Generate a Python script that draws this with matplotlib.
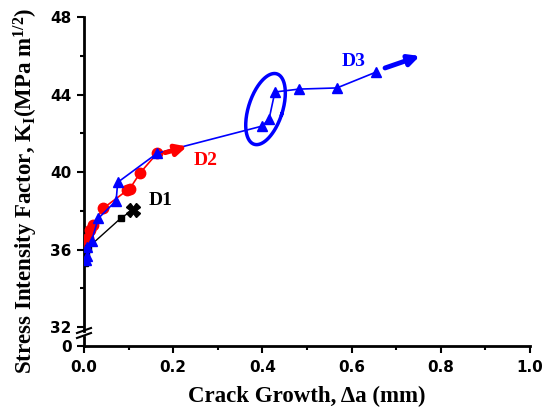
import numpy as np
import matplotlib
matplotlib.use("Agg")
import matplotlib.pyplot as plt
from matplotlib.lines import Line2D

# ---- data ----
d1_x = [0.002, 0.004, 0.009, 0.083]
d1_y = [35.3, 35.7, 36.1, 37.63]
d1_end_x = [0.11]
d1_end_y = [38.05]

d2_x = [0.004, 0.008, 0.013, 0.0195, 0.043, 0.0975, 0.103, 0.1256, 0.164]
d2_y = [36.3, 36.6, 37.0, 37.26, 38.13, 39.07, 39.15, 39.95, 40.97]
d2_arrow = [(0.182, 41.0), (0.231, 41.32)]

d3_x = [0.004, 0.006, 0.0074, 0.017, 0.032, 0.072, 0.0756, 0.164,
        0.399, 0.415, 0.428, 0.482, 0.567, 0.655]
d3_y = [35.45, 35.66, 36.14, 36.45, 37.61, 38.52, 39.47, 40.97,
        42.37, 42.74, 44.13, 44.28, 44.34, 45.16]
d3_arrow = [(0.675, 45.37), (0.753, 45.99)]

x_ticks = [0.0, 0.2, 0.4, 0.6, 0.8, 1.0]
y_ticks = [32, 36, 40, 44, 48]

plt.rcParams['mathtext.fontset'] = 'custom'
plt.rcParams['mathtext.rm'] = 'Liberation Serif:bold'
plt.rcParams['mathtext.bf'] = 'Liberation Serif:bold'
plt.rcParams['mathtext.it'] = 'Liberation Serif:bold'

W, H = 546, 412
fig = plt.figure(figsize=(W / 100, H / 100), dpi=100)

def rect(l, r, t, b):
    return [l / W, 1 - b / H, (r - l) / W, (b - t) / H]

ax = fig.add_axes(rect(84, 530, 17, 331))
axb = fig.add_axes(rect(84, 530, 337, 346))

tickfont = dict(family='DejaVu Sans', weight='bold', size=11)
serif_b = dict(family='Liberation Serif', weight='bold')

for a in (ax, axb):
    a.set_xlim(0, 1.0)
    a.patch.set_alpha(0)
    for s in ('top', 'right'):
        a.spines[s].set_visible(False)
    a.spines['left'].set_linewidth(2)
    a.spines['bottom'].set_linewidth(2)
    a.tick_params(which='major', direction='out', length=5, width=1.5)
    a.tick_params(which='minor', direction='out', length=3, width=1.5)
    a.tick_params(axis='y', pad=4)

ax.spines['bottom'].set_visible(False)
ax.set_ylim(31.8, 48)
ax.set_yticks(y_ticks)
ax.set_yticks([34, 38, 42, 46], minor=True)
ax.set_yticklabels([str(v) for v in y_ticks], fontdict=tickfont)
ax.set_xticks([])
ax.tick_params(axis='x', which='both', bottom=False, labelbottom=False)

axb.set_ylim(0, 1)
axb.set_yticks([0])
axb.set_yticklabels(['0'], fontdict=tickfont)
axb.set_xticks(x_ticks)
axb.set_xticks([0.1, 0.3, 0.5, 0.7, 0.9], minor=True)
axb.set_xticklabels([f'{v:.1f}' for v in x_ticks], fontdict=tickfont)
axb.tick_params(axis='x', pad=5)

# series
ax.plot(d2_x, d2_y, color='red', lw=1.2, marker='o', ms=7.5, zorder=3)
ax.plot(d1_x, d1_y, color='black', lw=1.0, marker='s', ms=5, zorder=4)
ax.plot([d1_x[-1]] + d1_end_x, [d1_y[-1]] + d1_end_y, color='black', lw=1.0, zorder=4)
ax.plot(d1_end_x, d1_end_y, color='black', marker='X', ms=10, ls='none', zorder=4)
ax.plot(d3_x, d3_y, color='blue', lw=1.2, marker='^', ms=7.5, zorder=5)
ax.plot([d2_x[-1], d2_arrow[0][0]], [d2_y[-1], d2_arrow[0][1]], color='red', lw=1.2, zorder=3)

ax.annotate('', xy=d2_arrow[1], xytext=d2_arrow[0],
            arrowprops=dict(arrowstyle='-|>', color='red', lw=3.5, mutation_scale=16,
                            shrinkA=0, shrinkB=0), zorder=6)
ax.annotate('', xy=d3_arrow[1], xytext=d3_arrow[0],
            arrowprops=dict(arrowstyle='-|>', color='blue', lw=3.5, mutation_scale=16,
                            shrinkA=0, shrinkB=0), zorder=6)

# ellipse highlight (drawn in pixel units, converted through the scales)
px_x = 446 / 1.0
px_y = (331 - 17) / (48 - 31.8)
cx, cy = 0.407, 43.25
t = np.linspace(0, 2 * np.pi, 200)
a_s, b_s, ang = 17.0, 37.0, np.deg2rad(-18)
ex = a_s * np.cos(t)
ey = b_s * np.sin(t)
rx = ex * np.cos(ang) - ey * np.sin(ang)
ry = ex * np.sin(ang) + ey * np.cos(ang)
ax.plot(cx + rx / px_x, cy + ry / px_y, color='blue', lw=2.5, zorder=6)

# labels
ax.text(0.145, 38.55, 'D1', color='black', fontsize=14, va='center', **serif_b)
ax.text(0.245, 40.6, 'D2', color='red', fontsize=14, va='center', **serif_b)
ax.text(0.578, 45.7, 'D3', color='blue', fontsize=14, va='center', **serif_b)

fig.text(307 / W, 1 - 396 / H, 'Crack Growth, \u0394a (mm)', ha='center', va='center',
         fontsize=16.5, **serif_b)
fig.text(26 / W, 1 - 191 / H, r'Stress Intensity Factor, K$_\mathrm{I}$(MPa m$^{1/2}$)',
         ha='center', va='center', rotation=90, fontsize=16.5, **serif_b)

# axis break marks
for yb in (331, 336):
    fig.add_artist(Line2D([77 / W, 91 / W], [1 - (yb + 2) / H, 1 - (yb - 3) / H],
                          color='black', lw=1.5))

fig.savefig('out.png', dpi=100)
